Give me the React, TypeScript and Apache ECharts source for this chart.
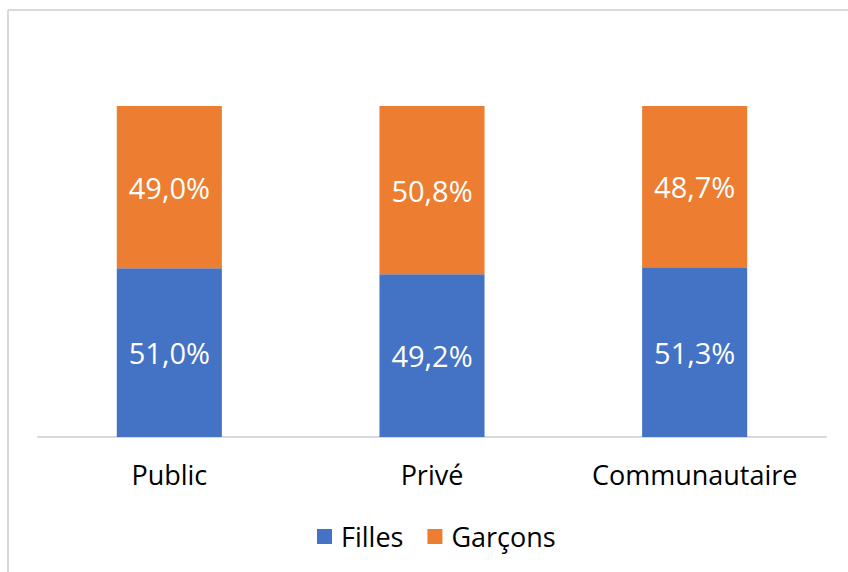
import React, { useEffect, useRef } from "react";
import * as echarts from "echarts";

const categories = ["Public", "Privé", "Communautaire"];
const filles = [51.0, 49.2, 51.3];
const garcons = [49.0, 50.8, 48.7];
const seriesNames = ["Filles", "Garçons"];

const FONT = "'Open Sans', 'Noto Sans', sans-serif";

export default function App() {
  const ref = useRef<HTMLDivElement>(null);
  useEffect(() => {
    if (!ref.current) return;
    const chart = echarts.init(ref.current, undefined, { renderer: "svg" });
    const fmt = (p: any) => p.value.toFixed(1).replace(".", ",") + "%";
    chart.setOption({
      animation: false,
      backgroundColor: "#ffffff",
      textStyle: { fontFamily: FONT },
      graphic: [
        { type: "line", shape: { x1: 8, y1: 10, x2: 848, y2: 10 }, style: { stroke: "#d9d9d9", lineWidth: 2 } },
        { type: "line", shape: { x1: 8, y1: 10, x2: 8, y2: 572 }, style: { stroke: "#d9d9d9", lineWidth: 2 } },
      ],
      grid: { left: 38, right: 22, top: 106, bottom: 135, containLabel: false },
      legend: {
        bottom: 17,
        left: 312,
        itemWidth: 15,
        itemHeight: 15,
        itemGap: 24,
        icon: "rect",
        textStyle: { fontFamily: FONT, fontSize: 27, color: "#000000", padding: [0, 0, 0, 4] },
        data: seriesNames,
      },
      xAxis: {
        type: "category",
        data: categories,
        axisLine: { lineStyle: { color: "#d9d9d9", width: 2 } },
        axisTick: { show: false },
        axisLabel: { fontFamily: FONT, fontSize: 27, color: "#000000", margin: 24, interval: 0 },
      },
      yAxis: {
        type: "value",
        min: 0,
        max: 100,
        show: false,
        splitLine: { show: false },
      },
      series: [
        {
          name: seriesNames[0],
          type: "bar",
          stack: "total",
          barWidth: "40%",
          data: filles,
          itemStyle: { color: "#4472c4" },
          label: { show: true, position: "inside", formatter: fmt, color: "#ffffff", fontFamily: FONT, fontSize: 29 },
        },
        {
          name: seriesNames[1],
          type: "bar",
          stack: "total",
          barWidth: "40%",
          data: garcons,
          itemStyle: { color: "#ed7d31" },
          label: { show: true, position: "inside", formatter: fmt, color: "#ffffff", fontFamily: FONT, fontSize: 29 },
        },
      ],
    });
    return () => chart.dispose();
  }, []);
  return <div ref={ref} style={{ position: "fixed", left: 0, top: 0, width: 848, height: 572 }} />;
}
